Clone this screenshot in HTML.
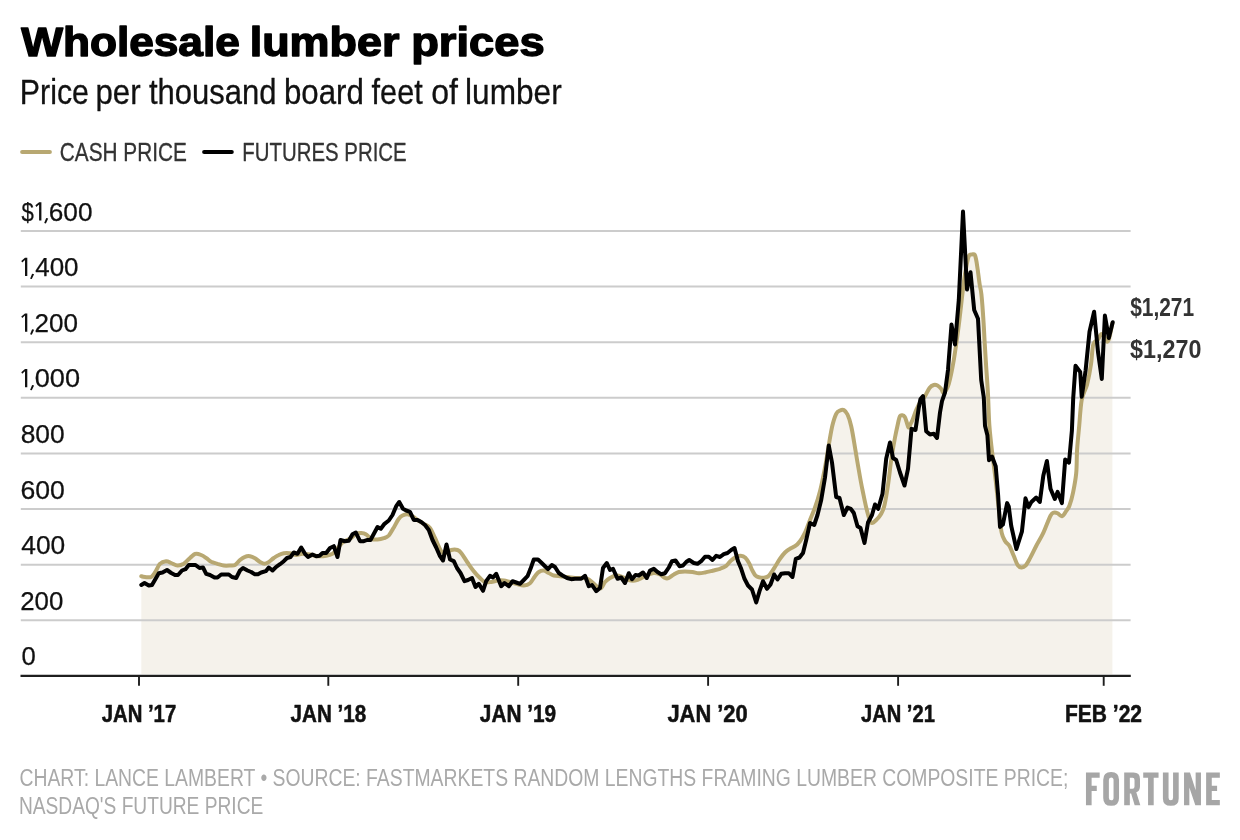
<!DOCTYPE html>
<html><head><meta charset="utf-8"><title>Wholesale lumber prices</title>
<style>
html,body{margin:0;padding:0;background:#fff;}
body{width:1240px;height:840px;overflow:hidden;font-family:"Liberation Sans",sans-serif;}
svg{display:block;will-change:transform;}
text{font-family:"Liberation Sans",sans-serif;}
</style></head><body>
<svg width="1240" height="840" viewBox="0 0 1240 840">
<rect width="1240" height="840" fill="#fff"/>
<!-- legend swatches -->
<line x1="22.1" y1="152" x2="49.9" y2="152" stroke="#b8a872" stroke-width="4" stroke-linecap="round"/>
<line x1="204.1" y1="152" x2="231.8" y2="152" stroke="#000" stroke-width="4" stroke-linecap="round"/>
<!-- area fill under cash price -->
<path d="M141.3,576.2 C141.9,576.4 143.3,576.9 145.0,577.0 C146.7,577.1 149.6,577.8 151.2,577.0 C152.9,576.2 153.5,574.7 155.0,572.5 C156.5,570.3 158.1,565.6 160.0,563.8 C161.9,561.9 164.4,561.4 166.2,561.2 C168.1,561.1 169.4,562.3 171.2,563.0 C173.1,563.7 175.4,565.4 177.5,565.5 C179.6,565.6 181.7,565.0 183.8,563.8 C185.8,562.5 188.0,559.7 190.0,558.0 C192.0,556.3 193.6,554.2 195.5,553.8 C197.4,553.2 199.5,554.3 201.2,555.0 C203.0,555.7 204.6,556.9 206.2,558.0 C207.9,559.1 209.4,560.8 211.2,561.8 C213.1,562.7 215.4,563.1 217.5,563.8 C219.6,564.4 221.7,565.2 223.8,565.5 C225.8,565.8 228.1,565.6 230.0,565.5 C231.9,565.4 233.3,565.9 235.0,565.0 C236.7,564.1 238.3,561.4 240.0,560.0 C241.7,558.6 243.3,557.4 245.0,556.8 C246.7,556.1 248.3,556.0 250.0,556.2 C251.7,556.5 253.3,557.3 255.0,558.2 C256.7,559.2 258.4,561.1 260.0,562.0 C261.6,562.9 263.0,563.8 264.5,563.8 C266.0,563.8 267.2,563.0 268.8,562.0 C270.3,561.0 272.1,559.2 273.8,558.0 C275.4,556.8 277.1,555.8 278.8,555.0 C280.4,554.2 281.9,553.5 283.8,553.2 C285.6,553.0 287.9,553.0 290.0,553.2 C292.1,553.5 294.2,554.9 296.2,555.0 C298.3,555.1 300.2,553.8 302.5,553.8 C304.8,553.7 307.5,554.1 310.0,554.5 C312.5,554.9 314.8,556.0 317.5,556.2 C320.2,556.5 323.8,556.2 326.2,555.8 C328.8,555.3 330.8,554.7 332.5,553.8 C334.2,552.8 334.6,551.9 336.2,550.0 C337.9,548.1 340.2,544.4 342.5,542.5 C344.8,540.6 347.7,540.2 350.0,538.8 C352.3,537.3 354.4,534.7 356.2,533.8 C358.1,532.8 359.6,532.9 361.2,533.0 C362.9,533.1 364.6,533.5 366.2,534.5 C367.9,535.5 369.4,537.9 371.2,538.8 C373.1,539.6 375.4,539.6 377.5,539.5 C379.6,539.4 381.9,538.9 383.8,538.2 C385.6,537.6 387.1,537.3 388.8,535.5 C390.4,533.7 392.1,530.3 393.8,527.5 C395.4,524.7 397.3,520.8 398.8,518.8 C400.2,516.8 401.0,516.2 402.5,515.5 C404.0,514.8 405.8,514.1 407.5,514.2 C409.2,514.4 410.8,515.3 412.5,516.2 C414.2,517.2 415.6,518.8 417.5,520.0 C419.4,521.2 421.7,522.4 423.8,523.8 C425.8,525.1 428.1,525.6 430.0,528.0 C431.9,530.4 433.1,534.1 435.0,538.0 C436.9,541.9 439.4,548.8 441.2,551.2 C443.1,553.8 444.3,553.2 446.0,553.0 C447.7,552.8 449.3,550.5 451.2,550.0 C453.2,549.5 455.8,549.5 457.5,550.0 C459.2,550.5 459.6,550.9 461.2,553.0 C462.9,555.1 465.4,559.5 467.5,562.5 C469.6,565.5 471.7,568.7 473.8,571.2 C475.8,573.8 478.1,576.2 480.0,578.0 C481.9,579.8 483.1,581.3 485.0,582.0 C486.9,582.7 489.2,582.2 491.2,582.0 C493.3,581.8 495.4,580.8 497.5,580.5 C499.6,580.2 501.7,580.2 503.8,580.5 C505.8,580.8 507.9,581.5 510.0,582.0 C512.1,582.5 514.0,583.2 516.2,583.8 C518.5,584.3 521.5,585.6 523.8,585.5 C526.0,585.4 528.1,584.8 530.0,583.2 C531.9,581.7 533.5,578.1 535.0,576.2 C536.5,574.4 537.3,573.0 538.8,572.0 C540.2,571.0 542.1,570.3 543.8,570.5 C545.4,570.7 547.1,572.2 548.8,573.0 C550.4,573.8 551.9,575.0 553.8,575.5 C555.6,576.0 557.7,576.0 560.0,576.2 C562.3,576.5 565.0,576.7 567.5,577.0 C570.0,577.3 572.5,577.8 575.0,578.0 C577.5,578.2 580.4,577.9 582.5,578.0 C584.6,578.1 585.8,578.0 587.5,578.8 C589.2,579.5 590.8,581.1 592.5,582.5 C594.2,583.9 596.0,586.1 597.5,587.0 C599.0,587.9 600.0,588.8 601.2,588.0 C602.5,587.2 603.5,583.7 605.0,582.0 C606.5,580.3 608.1,579.1 610.0,578.0 C611.9,576.9 614.2,575.7 616.2,575.5 C618.3,575.3 620.4,576.2 622.5,577.0 C624.6,577.8 626.7,579.4 628.8,580.0 C630.8,580.6 632.9,580.8 635.0,580.5 C637.1,580.2 639.2,579.2 641.2,578.2 C643.3,577.3 645.4,575.9 647.5,575.0 C649.6,574.1 651.7,573.1 653.8,573.0 C655.8,572.9 658.1,573.7 660.0,574.5 C661.9,575.3 663.5,577.4 665.0,578.0 C666.5,578.6 667.3,578.6 668.8,578.0 C670.2,577.4 672.1,575.5 673.8,574.5 C675.4,573.5 676.9,572.5 678.8,572.0 C680.6,571.5 682.7,571.5 685.0,571.5 C687.3,571.5 690.2,571.7 692.5,572.0 C694.8,572.3 696.7,573.2 698.8,573.2 C700.8,573.3 702.7,572.9 705.0,572.5 C707.3,572.1 710.0,571.4 712.5,570.8 C715.0,570.1 717.7,569.6 720.0,568.8 C722.3,567.9 724.4,567.1 726.2,565.8 C728.1,564.4 729.4,561.9 731.1,560.4 C732.8,558.9 734.7,557.7 736.3,556.9 C737.9,556.1 739.3,555.6 740.8,555.7 C742.3,555.8 743.9,556.3 745.3,557.6 C746.7,558.9 748.0,561.2 749.2,563.4 C750.4,565.5 751.3,568.5 752.4,570.5 C753.5,572.5 754.4,574.5 755.6,575.6 C756.8,576.8 758.2,577.0 759.5,577.4 C760.8,577.8 762.0,577.9 763.4,577.8 C764.8,577.6 766.5,577.5 767.9,576.5 C769.3,575.5 770.5,573.5 771.8,571.8 C773.1,570.0 774.1,568.2 775.5,566.0 C776.9,563.8 778.4,561.0 780.0,558.8 C781.6,556.5 783.3,554.2 785.0,552.5 C786.7,550.8 788.3,549.8 790.0,548.8 C791.7,547.7 793.3,547.5 795.0,546.2 C796.7,545.0 798.3,543.5 800.0,541.2 C801.7,539.0 803.3,536.0 805.0,532.5 C806.7,529.0 808.3,524.2 810.0,520.0 C811.7,515.8 813.3,512.3 815.0,507.5 C816.7,502.7 818.3,497.9 820.0,491.2 C821.7,484.6 823.5,475.2 825.0,467.5 C826.5,459.8 827.5,452.1 828.8,445.0 C830.0,437.9 831.2,430.2 832.5,425.0 C833.8,419.8 835.0,416.2 836.2,413.8 C837.5,411.3 838.8,411.1 840.0,410.5 C841.2,409.9 842.5,409.3 843.8,410.0 C845.0,410.7 846.2,411.8 847.5,414.5 C848.8,417.2 850.0,420.8 851.2,426.2 C852.5,431.8 853.8,440.2 855.0,447.5 C856.2,454.8 857.5,462.9 858.8,470.0 C860.0,477.1 861.2,483.8 862.5,490.0 C863.8,496.2 865.1,502.6 866.2,507.5 C867.4,512.4 868.5,516.9 869.5,519.5 C870.5,522.1 870.9,522.9 872.0,523.0 C873.1,523.1 874.7,521.5 876.2,520.0 C877.8,518.5 879.9,516.2 881.2,513.8 C882.6,511.2 883.4,509.8 884.5,505.0 C885.6,500.2 886.9,492.5 888.0,485.0 C889.1,477.5 890.1,467.9 891.2,460.0 C892.4,452.1 893.8,443.8 895.0,437.5 C896.2,431.2 897.5,425.6 898.3,422.0 C899.1,418.4 899.3,417.1 900.0,416.0 C900.7,414.9 901.5,415.1 902.3,415.2 C903.1,415.3 904.0,415.6 904.7,416.7 C905.4,417.8 905.9,419.7 906.5,421.5 C907.1,423.3 907.8,427.1 908.5,427.5 C909.2,427.9 909.8,425.2 910.5,424.0 C911.2,422.8 911.5,422.3 912.5,420.0 C913.5,417.7 915.0,412.9 916.2,410.0 C917.5,407.1 918.5,404.8 920.0,402.5 C921.5,400.2 923.4,398.7 925.0,396.2 C926.6,393.8 928.0,389.9 929.5,388.0 C931.0,386.1 932.4,385.4 933.8,385.0 C935.1,384.6 936.2,384.9 937.5,385.5 C938.8,386.1 940.2,387.6 941.2,388.8 C942.3,389.9 942.5,393.3 943.8,392.5 C945.0,391.7 947.1,389.2 948.8,383.8 C950.4,378.3 952.1,369.8 953.8,360.0 C955.4,350.2 957.1,337.9 958.8,325.0 C960.4,312.1 962.5,291.9 963.8,282.5 C965.0,273.1 965.3,272.5 966.0,268.5 C966.7,264.5 967.4,260.8 968.0,258.5 C968.6,256.2 968.9,255.6 969.6,254.9 C970.3,254.2 971.1,254.4 972.0,254.4 C972.9,254.4 974.0,253.8 974.7,254.7 C975.4,255.6 975.7,257.6 976.2,260.0 C976.7,262.4 977.0,265.0 977.6,269.0 C978.2,273.0 979.0,279.8 979.6,284.0 C980.2,288.2 980.7,287.8 981.4,294.3 C982.1,300.8 983.1,315.0 983.6,322.9 C984.1,330.8 984.2,334.3 984.6,341.4 C985.0,348.5 985.5,356.9 986.1,365.7 C986.7,374.5 987.5,384.3 988.0,394.3 C988.5,404.3 988.7,416.1 989.4,425.7 C990.1,435.3 991.0,442.8 992.1,451.9 C993.2,461.0 994.5,470.2 995.7,480.5 C996.9,490.8 998.3,505.1 999.3,513.8 C1000.3,522.5 1000.7,528.3 1001.7,532.9 C1002.7,537.5 1003.9,539.0 1005.2,541.2 C1006.5,543.4 1008.1,543.6 1009.5,546.0 C1010.9,548.4 1012.2,552.3 1013.6,555.5 C1015.0,558.7 1016.3,563.0 1017.6,565.0 C1018.9,567.0 1020.1,567.3 1021.4,567.4 C1022.7,567.5 1024.0,567.3 1025.5,565.7 C1027.0,564.1 1028.4,561.2 1030.2,557.9 C1032.0,554.6 1034.0,550.2 1036.2,546.0 C1038.4,541.8 1040.9,537.9 1043.3,532.9 C1045.7,527.9 1048.7,519.1 1050.5,515.7 C1052.3,512.3 1052.8,513.0 1054.0,512.6 C1055.2,512.2 1056.3,512.7 1057.6,513.3 C1058.9,513.9 1060.5,516.5 1061.9,516.2 C1063.3,515.9 1064.7,513.2 1066.0,511.4 C1067.3,509.6 1068.3,508.7 1069.5,505.5 C1070.7,502.3 1072.0,497.8 1073.1,492.4 C1074.2,487.0 1075.5,480.4 1076.2,473.3 C1076.9,466.2 1076.6,457.0 1077.1,449.5 C1077.6,442.0 1078.2,436.4 1079.0,428.1 C1079.8,419.8 1080.4,407.2 1081.7,399.9 C1083.0,392.6 1085.5,390.3 1087.1,384.4 C1088.6,378.5 1090.0,371.0 1091.0,364.3 C1092.0,357.6 1092.1,348.3 1093.3,344.2 C1094.5,340.1 1096.7,341.2 1098.0,339.5 C1099.3,337.8 1100.1,334.7 1101.1,334.1 C1102.1,333.5 1103.0,334.7 1104.0,336.0 C1105.0,337.3 1106.4,341.7 1107.3,341.8 C1108.2,341.9 1108.8,339.5 1109.6,336.4 C1110.4,333.3 1111.9,325.5 1112.4,323.3 L1112.4,674.3 L141.3,674.3Z" fill="#f5f2eb"/>
<!-- gridlines -->
<line x1="20.8" y1="231.00" x2="1130.6" y2="231.00" stroke="#cccccc" stroke-width="2"/>
<line x1="20.8" y1="286.61" x2="1130.6" y2="286.61" stroke="#cccccc" stroke-width="2"/>
<line x1="20.8" y1="342.23" x2="1130.6" y2="342.23" stroke="#cccccc" stroke-width="2"/>
<line x1="20.8" y1="397.84" x2="1130.6" y2="397.84" stroke="#cccccc" stroke-width="2"/>
<line x1="20.8" y1="453.45" x2="1130.6" y2="453.45" stroke="#cccccc" stroke-width="2"/>
<line x1="20.8" y1="509.06" x2="1130.6" y2="509.06" stroke="#cccccc" stroke-width="2"/>
<line x1="20.8" y1="564.67" x2="1130.6" y2="564.67" stroke="#cccccc" stroke-width="2"/>
<line x1="20.8" y1="620.29" x2="1130.6" y2="620.29" stroke="#cccccc" stroke-width="2"/>
<!-- series -->
<path d="M141.3,576.2 C141.9,576.4 143.3,576.9 145.0,577.0 C146.7,577.1 149.6,577.8 151.2,577.0 C152.9,576.2 153.5,574.7 155.0,572.5 C156.5,570.3 158.1,565.6 160.0,563.8 C161.9,561.9 164.4,561.4 166.2,561.2 C168.1,561.1 169.4,562.3 171.2,563.0 C173.1,563.7 175.4,565.4 177.5,565.5 C179.6,565.6 181.7,565.0 183.8,563.8 C185.8,562.5 188.0,559.7 190.0,558.0 C192.0,556.3 193.6,554.2 195.5,553.8 C197.4,553.2 199.5,554.3 201.2,555.0 C203.0,555.7 204.6,556.9 206.2,558.0 C207.9,559.1 209.4,560.8 211.2,561.8 C213.1,562.7 215.4,563.1 217.5,563.8 C219.6,564.4 221.7,565.2 223.8,565.5 C225.8,565.8 228.1,565.6 230.0,565.5 C231.9,565.4 233.3,565.9 235.0,565.0 C236.7,564.1 238.3,561.4 240.0,560.0 C241.7,558.6 243.3,557.4 245.0,556.8 C246.7,556.1 248.3,556.0 250.0,556.2 C251.7,556.5 253.3,557.3 255.0,558.2 C256.7,559.2 258.4,561.1 260.0,562.0 C261.6,562.9 263.0,563.8 264.5,563.8 C266.0,563.8 267.2,563.0 268.8,562.0 C270.3,561.0 272.1,559.2 273.8,558.0 C275.4,556.8 277.1,555.8 278.8,555.0 C280.4,554.2 281.9,553.5 283.8,553.2 C285.6,553.0 287.9,553.0 290.0,553.2 C292.1,553.5 294.2,554.9 296.2,555.0 C298.3,555.1 300.2,553.8 302.5,553.8 C304.8,553.7 307.5,554.1 310.0,554.5 C312.5,554.9 314.8,556.0 317.5,556.2 C320.2,556.5 323.8,556.2 326.2,555.8 C328.8,555.3 330.8,554.7 332.5,553.8 C334.2,552.8 334.6,551.9 336.2,550.0 C337.9,548.1 340.2,544.4 342.5,542.5 C344.8,540.6 347.7,540.2 350.0,538.8 C352.3,537.3 354.4,534.7 356.2,533.8 C358.1,532.8 359.6,532.9 361.2,533.0 C362.9,533.1 364.6,533.5 366.2,534.5 C367.9,535.5 369.4,537.9 371.2,538.8 C373.1,539.6 375.4,539.6 377.5,539.5 C379.6,539.4 381.9,538.9 383.8,538.2 C385.6,537.6 387.1,537.3 388.8,535.5 C390.4,533.7 392.1,530.3 393.8,527.5 C395.4,524.7 397.3,520.8 398.8,518.8 C400.2,516.8 401.0,516.2 402.5,515.5 C404.0,514.8 405.8,514.1 407.5,514.2 C409.2,514.4 410.8,515.3 412.5,516.2 C414.2,517.2 415.6,518.8 417.5,520.0 C419.4,521.2 421.7,522.4 423.8,523.8 C425.8,525.1 428.1,525.6 430.0,528.0 C431.9,530.4 433.1,534.1 435.0,538.0 C436.9,541.9 439.4,548.8 441.2,551.2 C443.1,553.8 444.3,553.2 446.0,553.0 C447.7,552.8 449.3,550.5 451.2,550.0 C453.2,549.5 455.8,549.5 457.5,550.0 C459.2,550.5 459.6,550.9 461.2,553.0 C462.9,555.1 465.4,559.5 467.5,562.5 C469.6,565.5 471.7,568.7 473.8,571.2 C475.8,573.8 478.1,576.2 480.0,578.0 C481.9,579.8 483.1,581.3 485.0,582.0 C486.9,582.7 489.2,582.2 491.2,582.0 C493.3,581.8 495.4,580.8 497.5,580.5 C499.6,580.2 501.7,580.2 503.8,580.5 C505.8,580.8 507.9,581.5 510.0,582.0 C512.1,582.5 514.0,583.2 516.2,583.8 C518.5,584.3 521.5,585.6 523.8,585.5 C526.0,585.4 528.1,584.8 530.0,583.2 C531.9,581.7 533.5,578.1 535.0,576.2 C536.5,574.4 537.3,573.0 538.8,572.0 C540.2,571.0 542.1,570.3 543.8,570.5 C545.4,570.7 547.1,572.2 548.8,573.0 C550.4,573.8 551.9,575.0 553.8,575.5 C555.6,576.0 557.7,576.0 560.0,576.2 C562.3,576.5 565.0,576.7 567.5,577.0 C570.0,577.3 572.5,577.8 575.0,578.0 C577.5,578.2 580.4,577.9 582.5,578.0 C584.6,578.1 585.8,578.0 587.5,578.8 C589.2,579.5 590.8,581.1 592.5,582.5 C594.2,583.9 596.0,586.1 597.5,587.0 C599.0,587.9 600.0,588.8 601.2,588.0 C602.5,587.2 603.5,583.7 605.0,582.0 C606.5,580.3 608.1,579.1 610.0,578.0 C611.9,576.9 614.2,575.7 616.2,575.5 C618.3,575.3 620.4,576.2 622.5,577.0 C624.6,577.8 626.7,579.4 628.8,580.0 C630.8,580.6 632.9,580.8 635.0,580.5 C637.1,580.2 639.2,579.2 641.2,578.2 C643.3,577.3 645.4,575.9 647.5,575.0 C649.6,574.1 651.7,573.1 653.8,573.0 C655.8,572.9 658.1,573.7 660.0,574.5 C661.9,575.3 663.5,577.4 665.0,578.0 C666.5,578.6 667.3,578.6 668.8,578.0 C670.2,577.4 672.1,575.5 673.8,574.5 C675.4,573.5 676.9,572.5 678.8,572.0 C680.6,571.5 682.7,571.5 685.0,571.5 C687.3,571.5 690.2,571.7 692.5,572.0 C694.8,572.3 696.7,573.2 698.8,573.2 C700.8,573.3 702.7,572.9 705.0,572.5 C707.3,572.1 710.0,571.4 712.5,570.8 C715.0,570.1 717.7,569.6 720.0,568.8 C722.3,567.9 724.4,567.1 726.2,565.8 C728.1,564.4 729.4,561.9 731.1,560.4 C732.8,558.9 734.7,557.7 736.3,556.9 C737.9,556.1 739.3,555.6 740.8,555.7 C742.3,555.8 743.9,556.3 745.3,557.6 C746.7,558.9 748.0,561.2 749.2,563.4 C750.4,565.5 751.3,568.5 752.4,570.5 C753.5,572.5 754.4,574.5 755.6,575.6 C756.8,576.8 758.2,577.0 759.5,577.4 C760.8,577.8 762.0,577.9 763.4,577.8 C764.8,577.6 766.5,577.5 767.9,576.5 C769.3,575.5 770.5,573.5 771.8,571.8 C773.1,570.0 774.1,568.2 775.5,566.0 C776.9,563.8 778.4,561.0 780.0,558.8 C781.6,556.5 783.3,554.2 785.0,552.5 C786.7,550.8 788.3,549.8 790.0,548.8 C791.7,547.7 793.3,547.5 795.0,546.2 C796.7,545.0 798.3,543.5 800.0,541.2 C801.7,539.0 803.3,536.0 805.0,532.5 C806.7,529.0 808.3,524.2 810.0,520.0 C811.7,515.8 813.3,512.3 815.0,507.5 C816.7,502.7 818.3,497.9 820.0,491.2 C821.7,484.6 823.5,475.2 825.0,467.5 C826.5,459.8 827.5,452.1 828.8,445.0 C830.0,437.9 831.2,430.2 832.5,425.0 C833.8,419.8 835.0,416.2 836.2,413.8 C837.5,411.3 838.8,411.1 840.0,410.5 C841.2,409.9 842.5,409.3 843.8,410.0 C845.0,410.7 846.2,411.8 847.5,414.5 C848.8,417.2 850.0,420.8 851.2,426.2 C852.5,431.8 853.8,440.2 855.0,447.5 C856.2,454.8 857.5,462.9 858.8,470.0 C860.0,477.1 861.2,483.8 862.5,490.0 C863.8,496.2 865.1,502.6 866.2,507.5 C867.4,512.4 868.5,516.9 869.5,519.5 C870.5,522.1 870.9,522.9 872.0,523.0 C873.1,523.1 874.7,521.5 876.2,520.0 C877.8,518.5 879.9,516.2 881.2,513.8 C882.6,511.2 883.4,509.8 884.5,505.0 C885.6,500.2 886.9,492.5 888.0,485.0 C889.1,477.5 890.1,467.9 891.2,460.0 C892.4,452.1 893.8,443.8 895.0,437.5 C896.2,431.2 897.5,425.6 898.3,422.0 C899.1,418.4 899.3,417.1 900.0,416.0 C900.7,414.9 901.5,415.1 902.3,415.2 C903.1,415.3 904.0,415.6 904.7,416.7 C905.4,417.8 905.9,419.7 906.5,421.5 C907.1,423.3 907.8,427.1 908.5,427.5 C909.2,427.9 909.8,425.2 910.5,424.0 C911.2,422.8 911.5,422.3 912.5,420.0 C913.5,417.7 915.0,412.9 916.2,410.0 C917.5,407.1 918.5,404.8 920.0,402.5 C921.5,400.2 923.4,398.7 925.0,396.2 C926.6,393.8 928.0,389.9 929.5,388.0 C931.0,386.1 932.4,385.4 933.8,385.0 C935.1,384.6 936.2,384.9 937.5,385.5 C938.8,386.1 940.2,387.6 941.2,388.8 C942.3,389.9 942.5,393.3 943.8,392.5 C945.0,391.7 947.1,389.2 948.8,383.8 C950.4,378.3 952.1,369.8 953.8,360.0 C955.4,350.2 957.1,337.9 958.8,325.0 C960.4,312.1 962.5,291.9 963.8,282.5 C965.0,273.1 965.3,272.5 966.0,268.5 C966.7,264.5 967.4,260.8 968.0,258.5 C968.6,256.2 968.9,255.6 969.6,254.9 C970.3,254.2 971.1,254.4 972.0,254.4 C972.9,254.4 974.0,253.8 974.7,254.7 C975.4,255.6 975.7,257.6 976.2,260.0 C976.7,262.4 977.0,265.0 977.6,269.0 C978.2,273.0 979.0,279.8 979.6,284.0 C980.2,288.2 980.7,287.8 981.4,294.3 C982.1,300.8 983.1,315.0 983.6,322.9 C984.1,330.8 984.2,334.3 984.6,341.4 C985.0,348.5 985.5,356.9 986.1,365.7 C986.7,374.5 987.5,384.3 988.0,394.3 C988.5,404.3 988.7,416.1 989.4,425.7 C990.1,435.3 991.0,442.8 992.1,451.9 C993.2,461.0 994.5,470.2 995.7,480.5 C996.9,490.8 998.3,505.1 999.3,513.8 C1000.3,522.5 1000.7,528.3 1001.7,532.9 C1002.7,537.5 1003.9,539.0 1005.2,541.2 C1006.5,543.4 1008.1,543.6 1009.5,546.0 C1010.9,548.4 1012.2,552.3 1013.6,555.5 C1015.0,558.7 1016.3,563.0 1017.6,565.0 C1018.9,567.0 1020.1,567.3 1021.4,567.4 C1022.7,567.5 1024.0,567.3 1025.5,565.7 C1027.0,564.1 1028.4,561.2 1030.2,557.9 C1032.0,554.6 1034.0,550.2 1036.2,546.0 C1038.4,541.8 1040.9,537.9 1043.3,532.9 C1045.7,527.9 1048.7,519.1 1050.5,515.7 C1052.3,512.3 1052.8,513.0 1054.0,512.6 C1055.2,512.2 1056.3,512.7 1057.6,513.3 C1058.9,513.9 1060.5,516.5 1061.9,516.2 C1063.3,515.9 1064.7,513.2 1066.0,511.4 C1067.3,509.6 1068.3,508.7 1069.5,505.5 C1070.7,502.3 1072.0,497.8 1073.1,492.4 C1074.2,487.0 1075.5,480.4 1076.2,473.3 C1076.9,466.2 1076.6,457.0 1077.1,449.5 C1077.6,442.0 1078.2,436.4 1079.0,428.1 C1079.8,419.8 1080.4,407.2 1081.7,399.9 C1083.0,392.6 1085.5,390.3 1087.1,384.4 C1088.6,378.5 1090.0,371.0 1091.0,364.3 C1092.0,357.6 1092.1,348.3 1093.3,344.2 C1094.5,340.1 1096.7,341.2 1098.0,339.5 C1099.3,337.8 1100.1,334.7 1101.1,334.1 C1102.1,333.5 1103.0,334.7 1104.0,336.0 C1105.0,337.3 1106.4,341.7 1107.3,341.8 C1108.2,341.9 1108.8,339.5 1109.6,336.4 C1110.4,333.3 1111.9,325.5 1112.4,323.3" fill="none" stroke="#b8a872" stroke-width="4" stroke-linejoin="round" stroke-linecap="round"/>
<path d="M141.3,585.0 L144.5,583.0 L148.8,585.5 L152.0,585.0 L158.8,573.2 L162.5,572.5 L167.0,570.0 L171.2,573.0 L175.0,575.0 L178.0,575.0 L182.0,570.5 L185.5,569.2 L188.8,565.0 L195.5,565.0 L199.5,568.0 L203.0,567.5 L206.2,573.8 L210.0,575.0 L214.5,577.5 L217.5,577.5 L221.2,574.5 L228.8,574.5 L232.0,577.0 L236.2,578.0 L240.0,570.5 L243.0,568.0 L247.5,570.5 L251.2,572.0 L254.5,574.2 L258.0,574.2 L261.2,572.5 L265.8,571.2 L268.8,567.5 L272.5,570.5 L276.2,566.8 L280.0,564.2 L283.8,561.2 L287.0,558.0 L290.5,557.0 L293.8,552.5 L297.5,553.8 L301.2,547.5 L305.0,553.8 L308.0,557.0 L312.5,554.5 L316.2,556.2 L319.5,555.8 L322.5,553.0 L326.2,553.0 L330.0,548.0 L333.8,546.2 L337.5,557.0 L340.5,540.0 L345.0,541.2 L348.8,540.8 L352.5,534.2 L355.8,532.5 L360.0,541.2 L363.8,541.2 L367.0,540.0 L370.5,540.0 L377.5,527.0 L380.8,528.8 L384.5,523.8 L388.8,520.5 L392.5,515.0 L396.2,506.2 L399.2,502.0 L403.0,508.8 L406.2,510.5 L410.0,511.8 L413.8,520.0 L417.5,520.0 L421.2,522.0 L425.0,525.0 L428.8,530.0 L432.5,540.0 L436.2,547.5 L440.0,556.2 L443.0,560.5 L446.5,544.5 L450.0,559.5 L453.8,561.2 L457.0,568.0 L460.5,573.0 L464.5,581.2 L468.0,580.0 L472.0,578.0 L475.5,587.0 L478.8,583.8 L483.0,590.8 L486.2,581.2 L490.0,575.8 L493.0,577.5 L496.2,573.8 L501.2,586.2 L504.5,583.0 L508.8,586.2 L512.5,581.2 L516.2,582.5 L520.0,583.8 L523.8,580.0 L527.5,576.2 L530.5,568.8 L533.8,559.5 L538.0,559.5 L541.2,562.5 L545.0,566.2 L548.0,569.2 L551.8,565.0 L555.0,567.0 L558.8,573.0 L562.5,575.5 L567.0,578.0 L571.2,579.2 L575.0,578.8 L581.2,578.8 L585.0,575.8 L588.8,586.2 L592.0,585.0 L596.2,591.2 L600.0,588.0 L603.0,568.0 L606.8,563.0 L610.0,570.0 L613.0,568.8 L617.5,578.8 L621.2,577.5 L625.0,583.0 L628.8,573.2 L632.0,579.2 L635.5,575.0 L638.8,575.5 L643.0,572.5 L646.8,578.0 L650.0,570.5 L653.8,568.8 L657.5,572.0 L661.2,574.2 L665.0,573.2 L668.8,567.5 L672.0,561.2 L675.5,560.5 L679.5,566.2 L683.0,565.5 L686.2,562.0 L689.2,560.0 L693.8,563.0 L697.5,563.8 L701.2,561.2 L705.0,556.8 L708.8,556.8 L712.5,560.0 L716.2,555.8 L720.0,557.0 L723.8,554.2 L727.5,553.0 L731.2,550.0 L734.5,548.0 L738.0,561.2 L741.2,568.8 L744.5,578.8 L748.0,585.5 L752.0,589.5 L756.2,602.5 L759.5,591.2 L763.0,581.2 L767.0,588.8 L770.5,584.5 L774.2,574.5 L777.5,579.5 L781.2,573.8 L785.0,573.2 L788.8,573.2 L792.5,577.0 L795.8,558.8 L799.5,557.5 L803.0,553.0 L806.2,540.0 L810.0,523.0 L814.2,525.0 L817.5,515.0 L821.2,500.0 L825.0,477.5 L828.8,445.5 L832.0,462.5 L836.2,497.0 L839.5,498.0 L843.8,515.0 L847.5,507.5 L850.8,508.8 L853.8,513.0 L857.5,526.2 L860.5,528.0 L864.5,543.0 L868.0,522.5 L872.0,515.0 L875.0,504.5 L878.2,508.8 L882.5,493.8 L886.2,458.8 L890.0,442.5 L893.0,458.0 L896.2,460.0 L900.0,472.5 L904.5,485.5 L908.0,468.8 L911.5,428.8 L915.5,430.0 L918.8,407.5 L920.5,399.0 L923.0,396.2 L926.2,431.2 L930.0,434.5 L933.8,433.8 L937.0,438.0 L940.0,412.5 L942.0,401.2 L945.0,392.5 L948.0,370.0 L951.5,324.5 L955.0,344.5 L958.8,300.0 L961.2,250.0 L963.0,211.6 L965.0,250.0 L967.0,289.5 L970.5,272.2 L974.2,310.0 L978.0,318.8 L981.2,380.0 L983.8,397.5 L985.0,425.7 L987.4,435.2 L989.0,460.2 L992.1,456.7 L995.7,466.2 L998.1,494.8 L1000.0,526.9 L1002.9,524.5 L1007.1,503.1 L1008.8,506.7 L1011.2,525.7 L1016.4,549.0 L1021.9,531.7 L1025.5,498.3 L1028.6,507.1 L1031.4,501.9 L1036.2,497.6 L1039.8,501.9 L1043.3,475.7 L1046.9,461.0 L1050.5,488.8 L1054.8,499.0 L1057.6,491.9 L1061.9,503.1 L1065.2,459.5 L1069.0,462.6 L1071.9,430.5 L1073.2,398.3 L1075.5,365.8 L1080.2,372.0 L1081.7,396.8 L1085.6,370.5 L1089.5,331.8 L1094.1,311.7 L1098.0,351.9 L1101.8,379.0 L1104.9,315.5 L1108.8,338.0 L1112.7,322.2" fill="none" stroke="#000" stroke-width="4" stroke-linejoin="round" stroke-linecap="round"/>
<!-- axis -->
<line x1="20.5" y1="675.9" x2="1130.8" y2="675.9" stroke="#1e1e1e" stroke-width="2.1"/>
<line x1="139.0" y1="675.9" x2="139.0" y2="685.8" stroke="#1e1e1e" stroke-width="1.9"/>
<line x1="328.3" y1="675.9" x2="328.3" y2="685.8" stroke="#1e1e1e" stroke-width="1.9"/>
<line x1="518.2" y1="675.9" x2="518.2" y2="685.8" stroke="#1e1e1e" stroke-width="1.9"/>
<line x1="708.1" y1="675.9" x2="708.1" y2="685.8" stroke="#1e1e1e" stroke-width="1.9"/>
<line x1="898.1" y1="675.9" x2="898.1" y2="685.8" stroke="#1e1e1e" stroke-width="1.9"/>
<line x1="1103.7" y1="675.9" x2="1103.7" y2="685.8" stroke="#1e1e1e" stroke-width="1.9"/>
<!-- text -->
<text x="21.19" y="56.00" font-size="40.5" textLength="218.63" lengthAdjust="spacingAndGlyphs" fill="#000" font-weight="bold" stroke="#000" stroke-width="1.4" stroke-linejoin="round">Wholesale</text>
<text x="249.66" y="56.00" font-size="40.5" textLength="149.76" lengthAdjust="spacingAndGlyphs" fill="#000" font-weight="bold" stroke="#000" stroke-width="1.4" stroke-linejoin="round">lumber</text>
<text x="411.17" y="56.00" font-size="40.5" textLength="133.41" lengthAdjust="spacingAndGlyphs" fill="#000" font-weight="bold" stroke="#000" stroke-width="1.4" stroke-linejoin="round">prices</text>
<text x="19.86" y="103.60" font-size="35" textLength="69.09" lengthAdjust="spacingAndGlyphs" fill="#111" stroke="#111" stroke-width="0.3" stroke-linejoin="round">Price</text>
<text x="95.50" y="103.60" font-size="35" textLength="45.11" lengthAdjust="spacingAndGlyphs" fill="#111" stroke="#111" stroke-width="0.3" stroke-linejoin="round">per</text>
<text x="148.97" y="103.60" font-size="35" textLength="127.58" lengthAdjust="spacingAndGlyphs" fill="#111" stroke="#111" stroke-width="0.3" stroke-linejoin="round">thousand</text>
<text x="283.91" y="103.60" font-size="35" textLength="79.95" lengthAdjust="spacingAndGlyphs" fill="#111" stroke="#111" stroke-width="0.3" stroke-linejoin="round">board</text>
<text x="371.60" y="103.60" font-size="35" textLength="51.10" lengthAdjust="spacingAndGlyphs" fill="#111" stroke="#111" stroke-width="0.3" stroke-linejoin="round">feet</text>
<text x="431.27" y="103.60" font-size="35" textLength="26.72" lengthAdjust="spacingAndGlyphs" fill="#111" stroke="#111" stroke-width="0.3" stroke-linejoin="round">of</text>
<text x="465.10" y="103.60" font-size="35" textLength="96.64" lengthAdjust="spacingAndGlyphs" fill="#111" stroke="#111" stroke-width="0.3" stroke-linejoin="round">lumber</text>
<text x="59.84" y="160.60" font-size="25.2" textLength="127.04" lengthAdjust="spacingAndGlyphs" fill="#333" stroke="#333" stroke-width="0.3" stroke-linejoin="round">CASH PRICE</text>
<text x="242.37" y="160.60" font-size="25.2" textLength="164.27" lengthAdjust="spacingAndGlyphs" fill="#333" stroke="#333" stroke-width="0.3" stroke-linejoin="round">FUTURES PRICE</text>
<text x="21.58" y="220.50" font-size="25.2" textLength="12.31" lengthAdjust="spacingAndGlyphs" fill="#111" stroke="#111" stroke-width="0.25" stroke-linejoin="round">$</text>
<text x="48.74" y="220.50" font-size="25.2" textLength="43.73" lengthAdjust="spacingAndGlyphs" fill="#111" stroke="#111" stroke-width="0.25" stroke-linejoin="round">600</text>
<text x="35.22" y="276.11" font-size="25.2" textLength="43.34" lengthAdjust="spacingAndGlyphs" fill="#111" stroke="#111" stroke-width="0.25" stroke-linejoin="round">400</text>
<text x="34.50" y="331.73" font-size="25.2" textLength="43.47" lengthAdjust="spacingAndGlyphs" fill="#111" stroke="#111" stroke-width="0.25" stroke-linejoin="round">200</text>
<text x="34.72" y="387.34" font-size="25.2" textLength="45.29" lengthAdjust="spacingAndGlyphs" fill="#111" stroke="#111" stroke-width="0.25" stroke-linejoin="round">000</text>
<text x="20.71" y="442.95" font-size="25.2" textLength="43.97" lengthAdjust="spacingAndGlyphs" fill="#111" stroke="#111" stroke-width="0.25" stroke-linejoin="round">800</text>
<text x="20.52" y="498.56" font-size="25.2" textLength="44.37" lengthAdjust="spacingAndGlyphs" fill="#111" stroke="#111" stroke-width="0.25" stroke-linejoin="round">600</text>
<text x="21.31" y="554.17" font-size="25.2" textLength="43.96" lengthAdjust="spacingAndGlyphs" fill="#111" stroke="#111" stroke-width="0.25" stroke-linejoin="round">400</text>
<text x="20.21" y="609.79" font-size="25.2" textLength="43.15" lengthAdjust="spacingAndGlyphs" fill="#111" stroke="#111" stroke-width="0.25" stroke-linejoin="round">200</text>
<text x="21.48" y="665.40" font-size="25.2" textLength="14.25" lengthAdjust="spacingAndGlyphs" fill="#111" stroke="#111" stroke-width="0.25" stroke-linejoin="round">0</text>
<text x="101.67" y="721.90" font-size="24.7" textLength="74.54" lengthAdjust="spacingAndGlyphs" fill="#111" font-weight="bold" stroke="#111" stroke-width="0.55" stroke-linejoin="round">JAN ’17</text>
<text x="290.56" y="721.90" font-size="24.7" textLength="75.65" lengthAdjust="spacingAndGlyphs" fill="#111" font-weight="bold" stroke="#111" stroke-width="0.55" stroke-linejoin="round">JAN ’18</text>
<text x="479.86" y="721.90" font-size="24.7" textLength="76.26" lengthAdjust="spacingAndGlyphs" fill="#111" font-weight="bold" stroke="#111" stroke-width="0.55" stroke-linejoin="round">JAN ’19</text>
<text x="667.43" y="721.90" font-size="24.7" textLength="80.31" lengthAdjust="spacingAndGlyphs" fill="#111" font-weight="bold" stroke="#111" stroke-width="0.55" stroke-linejoin="round">JAN ’20</text>
<text x="860.98" y="721.90" font-size="24.7" textLength="73.90" lengthAdjust="spacingAndGlyphs" fill="#111" font-weight="bold" stroke="#111" stroke-width="0.55" stroke-linejoin="round">JAN ’21</text>
<text x="1064.96" y="721.90" font-size="24.7" textLength="77.09" lengthAdjust="spacingAndGlyphs" fill="#111" font-weight="bold" stroke="#111" stroke-width="0.55" stroke-linejoin="round">FEB ’22</text>
<text x="1130.17" y="315.80" font-size="25.6" textLength="63.96" lengthAdjust="spacingAndGlyphs" fill="#333" font-weight="bold">$1,271</text>
<text x="1130.12" y="357.80" font-size="25.6" textLength="71.32" lengthAdjust="spacingAndGlyphs" fill="#333" font-weight="bold">$1,270</text>
<text x="19.47" y="785.75" font-size="23.3" textLength="1048.81" lengthAdjust="spacingAndGlyphs" fill="#a9a9a9">CHART: LANCE LAMBERT • SOURCE: FASTMARKETS RANDOM LENGTHS FRAMING LUMBER COMPOSITE PRICE;</text>
<text x="18.93" y="813.75" font-size="23.3" textLength="244.37" lengthAdjust="spacingAndGlyphs" fill="#a9a9a9">NASDAQ'S FUTURE PRICE</text>
<path d="M35.40,205.30 L39.10,202.20 H41.40 V220.50 H39.10 V204.40 L36.30,206.90 Z M46.20,218.10 L48.20,218.60 L45.90,223.50 L44.20,223.10 Z" fill="#111"/>
<path d="M21.30,260.91 L25.00,257.81 H27.30 V276.11 H25.00 V260.01 L22.20,262.51 Z M32.10,273.71 L34.10,274.21 L31.80,279.11 L30.10,278.71 Z" fill="#111"/>
<path d="M21.30,316.53 L25.00,313.43 H27.30 V331.73 H25.00 V315.62 L22.20,318.12 Z M32.10,329.33 L34.10,329.83 L31.80,334.73 L30.10,334.33 Z" fill="#111"/>
<path d="M21.30,372.14 L25.00,369.04 H27.30 V387.34 H25.00 V371.24 L22.20,373.74 Z M32.10,384.94 L34.10,385.44 L31.80,390.34 L30.10,389.94 Z" fill="#111"/>
<!-- FORTUNE logo -->
<g transform="translate(1040,750) scale(0.16129)" fill="#a6a6a6" fill-rule="evenodd">
<path d="M285,140 H370 V172 H320 V222 H352 V254 H320 V342 H285 Z"/>
<path d="M441,136 Q490,136 490,185 V297 Q490,346 441,346 Q392,346 392,297 V185 Q392,136 441,136 Z M441,170 Q427,170 427,186 V296 Q427,312 441,312 Q456,312 456,296 V186 Q456,170 441,170 Z"/>
<path d="M522,140 H580 Q620,140 620,180 V225 Q620,255 597,262 L622,342 H587 L565,270 H557 V342 H522 Z M557,172 H574 Q586,172 586,186 V226 Q586,240 574,240 H557 Z"/>
<path d="M640,140 H735 V172 H705 V342 H670 V172 H640 Z"/>
<path d="M762,140 H797 V296 Q797,312 811,312 Q825,312 825,296 V140 H860 V300 Q860,346 811,346 Q762,346 762,300 Z"/>
<path d="M893,140 H930 L965,250 V140 H998 V342 H963 L926,232 V342 H893 Z"/>
<path d="M1030,140 H1115 V172 H1065 V222 H1098 V254 H1065 V310 H1115 V342 H1030 Z"/>
</g>
</svg></body></html>
